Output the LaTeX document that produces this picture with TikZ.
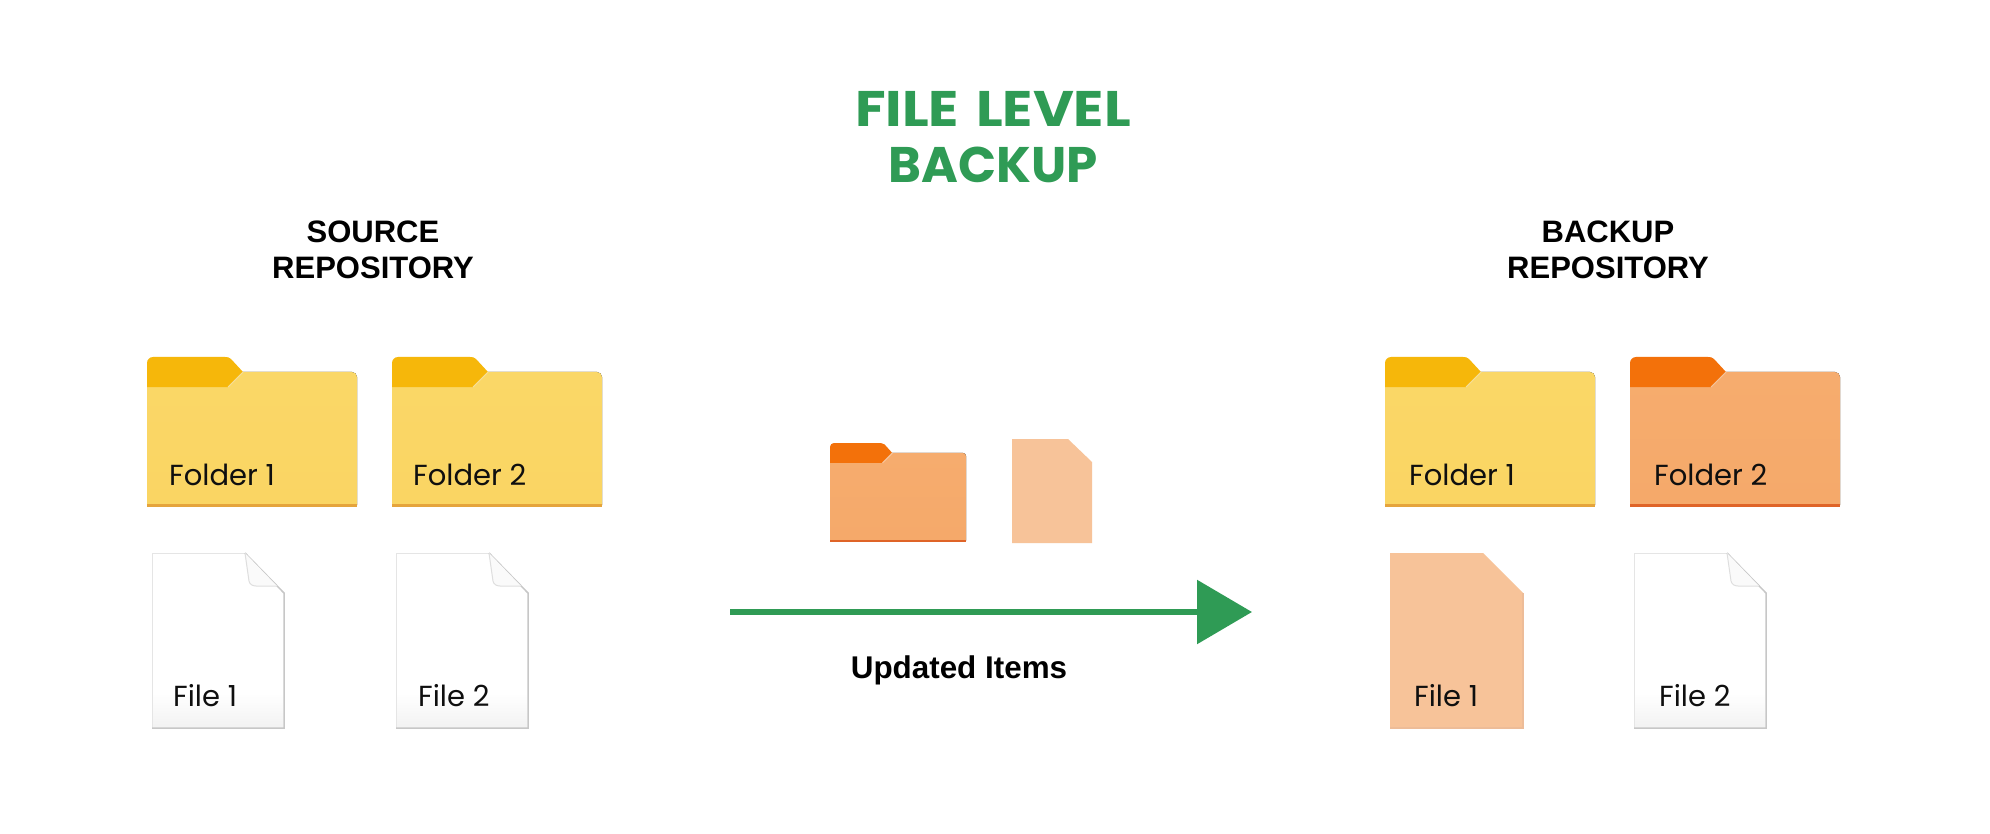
\documentclass[tikz,border=0pt]{standalone}
\usepackage{fontspec}
\setmainfont{Liberation Sans}
\newfontfamily\labelfont{Poppins}
\newfontfamily\titlefont{Poppins}[BoldFont={Poppins Bold}]
\newfontfamily\titlewide{Poppins}[BoldFont={Poppins Bold},BoldFeatures={FakeStretch=1.12}]
\usetikzlibrary{arrows.meta}
\definecolor{yellowbody}{HTML}{FAD767}
\definecolor{yellowbodyb}{HTML}{FAD563}
\definecolor{yellowtab}{HTML}{F6B70A}
\definecolor{yellowedge}{HTML}{E5A43C}
\definecolor{orangebody}{HTML}{F6AC6E}
\definecolor{orangebodyb}{HTML}{F5A96A}
\definecolor{orangetab}{HTML}{F3710A}
\definecolor{orangeedge}{HTML}{DF6428}
\definecolor{filepeach}{HTML}{F7C399}
\definecolor{filepeachedge}{HTML}{EDBC98}
\definecolor{brandgreen}{HTML}{2F9B55}
\definecolor{inkblack}{HTML}{0F0F0F}
\tikzset{
  itemlabel/.style={font=\labelfont\fontsize{29}{34}\selectfont, text=inkblack, anchor=base west, inner sep=0pt},
  headlabel/.style={font=\bfseries\fontsize{31}{36}\selectfont, text=black, anchor=base, inner sep=0pt},
  titlelabel/.style={font=\titlefont\bfseries\fontsize{50}{60}\selectfont, text=brandgreen, anchor=base, inner sep=0pt},
  arrowline/.style={draw=brandgreen, line width=6pt, -{Triangle[length=55pt,width=63pt]}},
}
% #1 x, #2 y, #3 xscale, #4 yscale, #5 body top, #6 body bottom, #7 tab, #8 edge
\newcommand{\folderart}[8]{%
  \begin{scope}[shift={(#1,#2)},xscale=#3,yscale=#4]
    \fill[top color=#5,bottom color=#6] (0,30) -- (81,30) -- (96,15) -- (205,15)
      to[out=0,in=90] (210,20) -- (210,148) -- (0,148) -- cycle;
    \fill[#8] (0,147) rectangle (210,150);
    \fill[#7] (0,30) -- (0,6) to[out=90,in=180] (6,0) -- (78,0) to[out=0,in=135] (84,2)
      -- (96,15) -- (81,30) -- cycle;
    \draw[white,opacity=.55,line width=.9pt] (81,30) -- (96,15);
  \end{scope}}
% white file with fold: #1 x, #2 y
\newcommand{\whitefile}[2]{%
  \begin{scope}[shift={(#1,#2)}]
    \fill[white] (0,0) -- (93,0) -- (132,40) -- (132,175) -- (0,175) -- cycle;
    \fill[top color=white,bottom color=black!5] (1,140) rectangle (131,174);
    \draw[black!10,line width=1pt] (0,175) -- (0,0) -- (93,0);
    \draw[black!22,line width=1.5pt] (93,0) -- (132,40) -- (132,175) -- (0,175);
    \fill[black!2] (93,0) -- (98,30) to[out=-75,in=180] (104,33) -- (125,33) -- cycle;
    \draw[black!13,line width=1pt] (93,0) -- (97,28) to[out=-80,in=180] (104,33) -- (125,33);
  \end{scope}}
% peach file without fold: #1 x, #2 y, #3 w, #4 h, #5 cut x, #6 cut y
\newcommand{\peachfile}[6]{%
  \fill[filepeach] (#1,#2) -- ++(#5,0) -- ++({#3-#5},#6) -- ++(0,{#4-#6}) -- ++(-#3,0) -- cycle;
  \draw[filepeachedge,line width=1.2pt] (#1+#3,#2+#6) -- ++(0,{#4-#6}) -- ++(-#3,0);}
\begin{document}
\begin{tikzpicture}[x=1pt,y=-1pt]
\useasboundingbox (0,0) rectangle (1990,834);
\fill[white] (0,0) rectangle (1990,834);

\node[titlelabel] (titleA) at (993,127) {\titlewide\bfseries FILE\hspace{5pt} LEVEL};
\node[titlelabel] (titleB) at (993,183) {BACKUP};
\node[headlabel] (srcA) at (373,243) {SOURCE};
\node[headlabel] (srcB) at (373,279) {REPOSITORY};
\node[headlabel] (bakA) at (1608,243) {BACKUP};
\node[headlabel] (bakB) at (1608,279) {REPOSITORY};

% source repository
\folderart{147}{357}{1}{1}{yellowbody}{yellowbodyb}{yellowtab}{yellowedge}
\folderart{392}{357}{1}{1}{yellowbody}{yellowbodyb}{yellowtab}{yellowedge}
\whitefile{152}{553}
\whitefile{396}{553}
\node[itemlabel] (sf1) at (169,485) {Folder 1};
\node[itemlabel] (sf2) at (413,485) {Folder 2};
\node[itemlabel] (sd1) at (173,706) {File 1};
\node[itemlabel] (sd2) at (418,706) {File 2};

% updated items
\folderart{830}{443}{.648}{.66}{orangebody}{orangebodyb}{orangetab}{orangeedge}
\fill[filepeach] (1012,439) -- (1068,439) -- (1092,462) -- (1092,543) -- (1012,543) -- cycle;
\coordinate (arrowfrom) at (730,612);
\coordinate (arrowto) at (1252,612);
\draw[arrowline] (arrowfrom) -- (arrowto);
\node[headlabel,font=\bfseries\fontsize{31.4}{36}\selectfont] (upd) at (959,678) {Updated Items};

% backup repository
\folderart{1385}{357}{1}{1}{yellowbody}{yellowbodyb}{yellowtab}{yellowedge}
\folderart{1630}{357}{1}{1}{orangebody}{orangebodyb}{orangetab}{orangeedge}
\peachfile{1390}{553}{133}{175}{93}{40}
\whitefile{1634}{553}
\node[itemlabel] (bf1) at (1409,485) {Folder 1};
\node[itemlabel] (bf2) at (1654,485) {Folder 2};
\node[itemlabel] (bd1) at (1414,706) {File 1};
\node[itemlabel] (bd2) at (1659,706) {File 2};
\end{tikzpicture}
\end{document}
